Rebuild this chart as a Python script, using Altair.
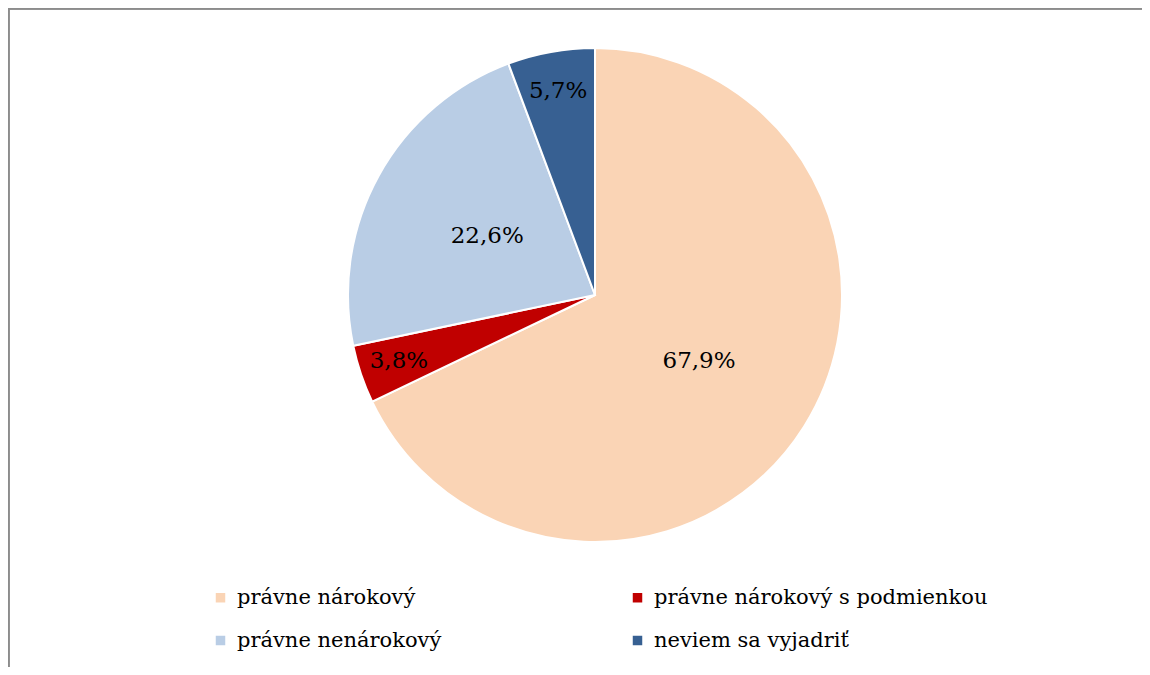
import altair as alt
import pandas as pd

categories = ["právne nárokový", "právne nárokový s podmienkou", "právne nenárokový", "neviem sa vyjadriť"]
values = [67.9, 3.8, 22.6, 5.7]
labels = ["67,9%", "3,8%", "22,6%", "5,7%"]
colors = ["#FAD4B5", "#C00000", "#B9CDE5", "#376092"]

df = pd.DataFrame({"cat": categories, "val": values, "lab": labels, "idx": list(range(len(categories)))})

leg_order = [0, 2, 1, 3]
leg_domain = [categories[i] for i in leg_order]
leg_range = [colors[i] for i in leg_order]

CX, CY, R = 587, 287, 247
FONT = "DejaVu Serif"

pie = alt.Chart(df).mark_arc(outerRadius=R, stroke="white", strokeWidth=2).encode(
    theta=alt.Theta("val:Q", stack=True),
    order=alt.Order("idx:Q"),
    x=alt.value(CX),
    y=alt.value(CY),
    color=alt.Color(
        "cat:N",
        scale=alt.Scale(domain=leg_domain, range=leg_range),
        legend=alt.Legend(
            title=None,
            orient="none",
            legendX=202,
            legendY=579,
            columns=2,
            columnPadding=185,
            rowPadding=21,
            symbolType="square",
            symbolSize=90,
            symbolStrokeWidth=0,
            labelFont=FONT,
            labelFontSize=21,
            labelColor="#000000",
            labelOffset=6,
            labelLimit=500,
        ),
    ),
)

text = alt.Chart(df).transform_window(
    cum="sum(val)", sort=[alt.SortField("idx")], frame=[None, 0]
).transform_calculate(
    mid="datum.cum - datum.val / 2",
    lr="datum.val < 10 ? 207 : 123",
).mark_text(font=FONT, fontSize=23, color="#000000").encode(
    theta=alt.Theta("mid:Q", stack=False, scale=alt.Scale(domain=[0, 100], range=[0, 6.283185307])),
    x=alt.value(CX),
    y=alt.value(CY),
    radius=alt.Radius("lr:Q", scale=None),
    text="lab:N",
)

top_line = alt.Chart(df).mark_rule(color="#8c8c8c", strokeWidth=3).encode(
    x=alt.value(0), x2=alt.value(1134), y=alt.value(0)
)
left_line = alt.Chart(df).mark_rule(color="#8c8c8c", strokeWidth=3).encode(
    x=alt.value(0), y=alt.value(0), y2=alt.value(659)
)

chart = alt.layer(pie, text, top_line, left_line).properties(
    width=1134, height=659, autosize=alt.AutoSizeParams(type="none"), padding=0
).configure_view(stroke="transparent", strokeWidth=0).configure(background="white")

chart.save("out.html", embed_options={"renderer": "svg", "actions": False})
